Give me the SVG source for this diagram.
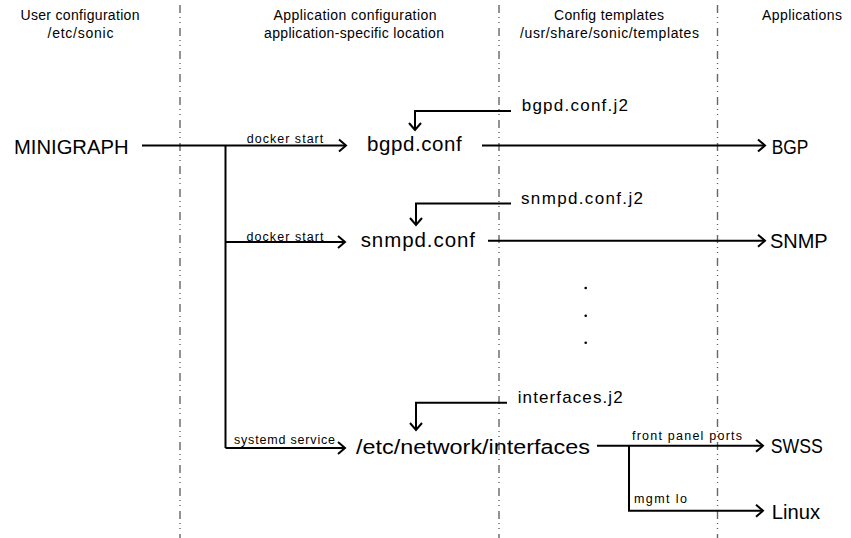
<svg xmlns="http://www.w3.org/2000/svg" width="851" height="538" viewBox="0 0 851 538">
<style>
text{font-family:"Liberation Sans",Arial,sans-serif;fill:#000}
.hdr{font-size:14px;text-anchor:middle}
.main{font-size:20.5px}
.tpl{font-size:17px}
.lbl{font-size:12.5px}
.sep{stroke:#666;stroke-width:1.4;stroke-dasharray:8 4 1 4 1 5;fill:none}
.conn{stroke:#000;stroke-width:2;fill:none}
</style>
<defs>
<marker id="arr" markerUnits="userSpaceOnUse" markerWidth="14" markerHeight="16" viewBox="-10 -8 12 16" refX="0" refY="0" orient="auto">
<path d="M-7,-6 L0,0 L-7,6" fill="none" stroke="#000" stroke-width="2"/>
</marker>
</defs>
<rect width="851" height="538" fill="#fff"/>
<g id="separators">
<line class="sep" x1="180" y1="5" x2="180" y2="538"/>
<line class="sep" x1="499" y1="5" x2="499" y2="538"/>
<line class="sep" x1="717.5" y1="5" x2="717.5" y2="538"/>
</g>
<g id="headers">
<text class="hdr" x="80" y="20" textLength="119">User configuration</text>
<text class="hdr" x="80.5" y="38" textLength="66">/etc/sonic</text>
<text class="hdr" x="355" y="20" textLength="163">Application configuration</text>
<text class="hdr" x="354" y="38" textLength="180">application-specific location</text>
<text class="hdr" x="609" y="20" textLength="110">Config templates</text>
<text class="hdr" x="609.5" y="38" textLength="179">/usr/share/sonic/templates</text>
<text class="hdr" x="802" y="20" textLength="80">Applications</text>
</g>
<g id="connectors">
<path class="conn" d="M142,145.5 H346" marker-end="url(#arr)"/>
<path class="conn" d="M225.5,145.5 V448"/>
<path class="conn" d="M225.5,242 H345" marker-end="url(#arr)"/>
<path class="conn" d="M225.5,448 H345" marker-end="url(#arr)"/>
<path class="conn" d="M511,111 H415 V130" marker-end="url(#arr)"/>
<path class="conn" d="M511,203.5 H416 V225" marker-end="url(#arr)"/>
<path class="conn" d="M507,402.7 H416 V430" marker-end="url(#arr)"/>
<path class="conn" d="M482,145.5 H765" marker-end="url(#arr)"/>
<path class="conn" d="M488,240.7 H765" marker-end="url(#arr)"/>
<path class="conn" d="M597,445.7 H763" marker-end="url(#arr)"/>
<path class="conn" d="M629,445.7 V510.7 H763" marker-end="url(#arr)"/>
</g>
<g id="connector-labels">
<text class="lbl" x="246.7" y="143" textLength="76.6">docker start</text>
<text class="lbl" x="246.5" y="240.5" textLength="77">docker start</text>
<text class="lbl" x="234" y="444" textLength="101">systemd service</text>
<text class="lbl" x="632" y="440" textLength="110">front panel ports</text>
<text class="lbl" x="634" y="503" textLength="53">mgmt lo</text>
</g>
<g id="minigraph"><text class="main" x="14" y="154" textLength="114.5" lengthAdjust="spacingAndGlyphs">MINIGRAPH</text></g>
<g id="bgpd-conf"><text class="main" x="367" y="151" textLength="94.7">bgpd.conf</text></g>
<g id="snmpd-conf"><text class="main" x="360.7" y="247" textLength="114.3">snmpd.conf</text></g>
<g id="interfaces"><text class="main" x="356" y="454" textLength="234" lengthAdjust="spacingAndGlyphs">/etc/network/interfaces</text></g>
<g id="bgpd-conf-j2"><text class="tpl" x="521.7" y="111" textLength="106.3">bgpd.conf.j2</text></g>
<g id="snmpd-conf-j2"><text class="tpl" x="521" y="204" textLength="122">snmpd.conf.j2</text></g>
<g id="interfaces-j2"><text class="tpl" x="517.7" y="402.7" textLength="105">interfaces.j2</text></g>
<g id="bgp"><text class="main" x="771.7" y="154" textLength="36.6" lengthAdjust="spacingAndGlyphs">BGP</text></g>
<g id="snmp"><text class="main" x="770" y="248.3" textLength="57.7" lengthAdjust="spacingAndGlyphs">SNMP</text></g>
<g id="swss"><text class="main" x="770.7" y="453" textLength="52" lengthAdjust="spacingAndGlyphs">SWSS</text></g>
<g id="linux"><text class="main" x="771.7" y="519" textLength="48.3" lengthAdjust="spacingAndGlyphs">Linux</text></g>
<g id="ellipsis">
<circle cx="585.7" cy="288" r="1.3" fill="#000"/>
<circle cx="585.7" cy="315.7" r="1.3" fill="#000"/>
<circle cx="585.7" cy="342.7" r="1.3" fill="#000"/>
</g>
</svg>
